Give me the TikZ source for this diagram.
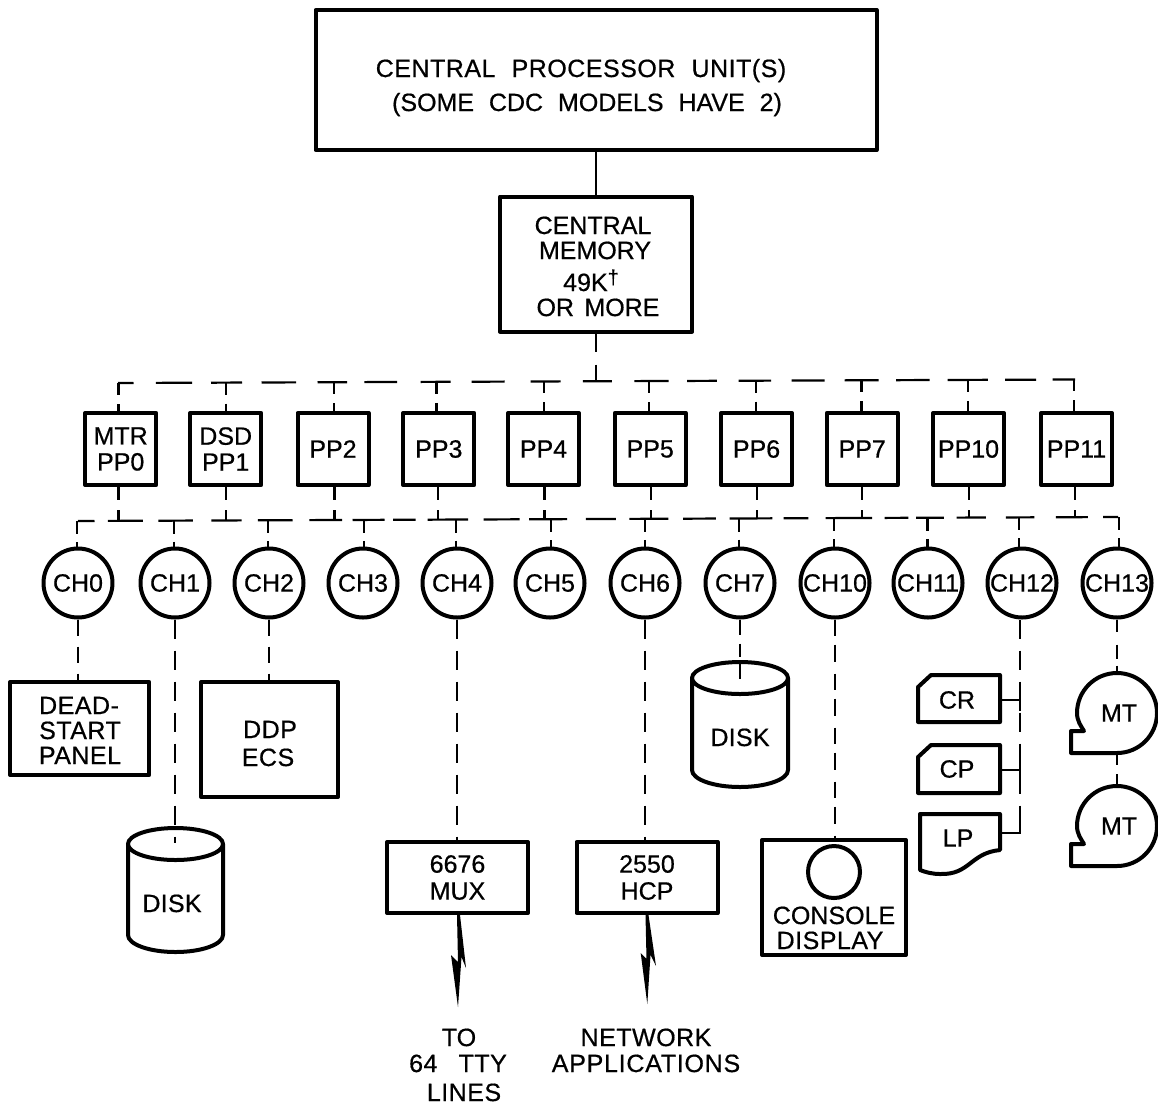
\documentclass[tikz,border=0pt]{standalone}
\usepackage{fontspec}
\setmainfont{Liberation Sans}[FakeBold=0.6,WordSpace=1.5]
\begin{document}
\begin{tikzpicture}[x=1pt,y=-1pt,
  every node/.style={font=\fontsize{25}{26}\selectfont,align=center,inner sep=0pt},
  thick box/.style={draw=black,line width=4pt,line join=round,fill=white},
  thin link/.style={draw=black,line width=2.2pt},
  topbus/.style={thin link,dash pattern=on 15.5pt off 22.4pt on 36.2pt off 18.9pt on 31pt off 19.5pt on 34.6pt off 21.4pt on 29.5pt off 17.3pt on 32.7pt off 23.5pt on 30pt off 21pt on 33pt off 26pt on 30pt off 22.4pt on 29pt off 22.4pt on 34.2pt off 18.5pt on 29.9pt off 21.6pt on 32.5pt off 20.5pt on 33pt off 20pt on 34pt off 17.5pt on 33.5pt off 18pt on 40.4pt off 17.2pt on 31pt off 16.4pt on 30pt off 30pt},
  lowbus/.style={thin link,dash pattern=on 16.5pt off 13.3pt on 35pt off 15.5pt on 34.5pt off 18.5pt on 30.3pt off 16.2pt on 34.7pt off 16.9pt on 32.7pt off 10.4pt on 32pt off 8.6pt on 22.4pt off 12pt on 40.7pt off 15.5pt on 35.8pt off 9.6pt on 37.9pt off 18.8pt on 30pt off 13.6pt on 38.9pt off 14.8pt on 32.7pt off 13.8pt on 42.7pt off 11.3pt on 24.8pt off 17.2pt on 46.5pt off 12.4pt on 23.8pt off 7.9pt on 27.6pt off 12.7pt on 29.3pt off 20pt on 28.5pt off 21.5pt on 32pt off 15.4pt on 30pt off 30pt},
  upstub/.style={thin link,dash pattern=on 12pt off 9pt},
  downstub/.style={thin link,dash pattern=on 13pt off 10pt},
  chstub/.style={thin link,dash pattern=on 13pt off 8pt},
  longdash/.style={thin link,dash pattern=on 19pt off 12pt},
  ppbox/.style={thick box,minimum width=71pt,minimum height=72pt},
  chan/.style={thick box,circle,minimum size=69pt},
  bolt/.style={fill=black},
  words/.style={anchor=base}]
\useasboundingbox (0,0) rectangle (1158,1104);
% main boxes
\node[thick box,minimum width=561pt,minimum height=140pt] (cpu) at (596,80) {};
\node[words] (cpuA) at (581,77) {\addfontfeature{LetterSpace=2}CENTRAL\hspace{5pt} PROCESSOR\hspace{5pt} UNIT(S)};
\node[words] (cpuB) at (587,111) {(SOME\hspace{4.5pt} CDC\hspace{4.5pt} MODELS\hspace{4.5pt} HAVE\hspace{4.5pt} 2)};
\node[thick box,minimum width=192pt,minimum height=135pt] (mem) at (596,264) {};
\node[words] (memA) at (593,234) {CENTRAL};
\node[words] (memB) at (595,259) {MEMORY};
\node[words] (memC) at (591,291) {49K\raisebox{7pt}{\fontsize{20}{20}\selectfont †}};
\node[words] (memD) at (598,316) {OR MORE};
\draw[thin link] (cpu.south) -- (mem.north);
% buses
\coordinate (tl) at (118,383);
\coordinate (tr) at (1075,379.5);
\coordinate (tm) at (596,381);
\coordinate (ll) at (78,521);
\coordinate (lr) at (1118,517);
\draw[topbus] (tl) -- (tr);
\draw[lowbus] (ll) -- (lr);
\draw[thin link,dash pattern=on 18pt off 13pt] (mem.south) -- (tm);
% peripheral processors: name / box x / upper stub x / lower stub x / text
\foreach \n/\x/\xa/\xb/\t in {p0/120.7/118.5/118.5/{MTR\\PP0},p1/225.7/226/226/{DSD\\PP1},p2/333/333.8/334.4/PP2,p3/438.8/436.4/437.8/PP3,p4/543.5/543.8/544.5/PP4,p5/650.2/649/651/PP5,p6/756.5/756/757/PP6,p7/862.2/861.4/862/PP7,p8/968.5/967.8/968.8/PP10,p9/1076.5/1073.8/1075/PP11}{
  \pgfmathsetmacro\ya{383-(\xa-118)*0.0037}
  \pgfmathsetmacro\yb{521-(\xb-78)*0.0038}
  \node[ppbox] (\n) at (\x,449) {\t};
  \coordinate (\n t) at (\xa,\ya);
  \coordinate (\n b) at (\xb,\yb);
  \draw[upstub] (\n t) -- (\n t |- \n.north);
  \draw[downstub] (\n b |- \n.south) -- (\n b);
}
% channels
\foreach \n/\x/\xs/\t in {c0/78/77/CH0,c1/175/174/CH1,c2/269/268/CH2,c3/363/363.7/CH3,c4/457/456/CH4,c5/550/550.7/CH5,c6/645/645/CH6,c7/740/739/CH7,c10/835/834/CH10,c11/928/927.5/CH11,c12/1022/1019/CH12,c13/1117/1118.6/CH13}{
  \pgfmathsetmacro\yc{521-(\xs-78)*0.0038}
  \node[chan] (\n) at (\x,583) {\t};
  \coordinate (\n t) at (\xs,\yc);
  \draw[chstub] (\n t) -- (\n t |- \n.north);
}
% deadstart, ddp
\node[thick box,minimum width=139pt,minimum height=93pt] (dead) at (79.8,728.5) {};
\node[words] (deadA) at (79,714) {\addfontfeature{LetterSpace=2}DEAD-};
\node[words] (deadB) at (80,739) {\addfontfeature{LetterSpace=2}START};
\node[words] (deadC) at (80,764) {\addfontfeature{LetterSpace=2}PANEL};
\node[thick box,minimum width=137pt,minimum height=115pt] (ddp) at (269.5,739.5) {};
\node[words] (ddpA) at (270,738) {\addfontfeature{LetterSpace=2}DDP};
\node[words] (ddpB) at (268,766) {\addfontfeature{LetterSpace=2}ECS};
\draw[thin link,dash pattern=on 16pt off 11pt] (c0.south) -- (c0.south |- dead.north);
\draw[thin link,dash pattern=on 16pt off 11pt] (c2.south) -- (c2.south |- ddp.north);
% disk 1
\draw[thick box] (128,844) -- (128,935) arc[start angle=180,end angle=360,x radius=47.5pt,y radius=17pt] -- (223,844);
\draw[thick box] (175.5,844) ellipse[x radius=47.5pt,y radius=16pt];
\node[words] (disk1) at (172,912) {\addfontfeature{LetterSpace=1}DISK};
\coordinate (d1t) at (175,843);
\draw[longdash] (c1.south) -- (d1t);
% disk 2
\draw[thick box] (692,678) -- (692,770) arc[start angle=180,end angle=360,x radius=48pt,y radius=17pt] -- (788,678);
\draw[thick box] (740,678) ellipse[x radius=48pt,y radius=16pt];
\node[words] (disk2) at (740,746) {\addfontfeature{LetterSpace=1}DISK};
\coordinate (d2t) at (740,680);
\draw[thin link,dash pattern=on 15pt off 9pt on 13pt off 7pt] (c7.south) -- (d2t);
% mux, hcp
\node[thick box,minimum width=141pt,minimum height=71pt,font=\fontsize{25}{27}\selectfont] (mux) at (457.5,877.5) {6676\\MUX};
\node[thick box,minimum width=141pt,minimum height=71pt,font=\fontsize{25}{27}\selectfont] (hcp) at (647,877.5) {2550\\HCP};
\draw[longdash] (c4.south) -- (c4.south |- mux.north);
\draw[longdash] (c6.south) -- (c6.south |- hcp.north);
\fill[bolt] (457,915) -- (460,915) -- (466,968) -- (461.5,957) -- (458,1007) -- (451,955) -- (458,962) -- cycle;
\fill[bolt] (645.5,915) -- (648.5,915) -- (656,966) -- (650.5,955) -- (647.3,1004) -- (640.7,953) -- (646.5,959) -- cycle;
\node[words] (toA) at (459,1046) {TO};
\node[words] (toB) at (458,1072) {\addfontfeature{LetterSpace=2}64\hspace{10pt} TTY};
\node[words] (toC) at (464,1101) {\addfontfeature{LetterSpace=2}LINES};
\node[words] (netA) at (646,1046) {\addfontfeature{LetterSpace=2}NETWORK};
\node[words] (netB) at (646,1072) {\addfontfeature{LetterSpace=3}APPLICATIONS};
% console
\node[thick box,minimum width=144pt,minimum height=115pt] (con) at (834,897.5) {};
\node[words] (conA) at (834,924) {CONSOLE};
\node[words] (conB) at (830,949) {\addfontfeature{LetterSpace=2}DISPLAY};
\node[thick box,circle,minimum size=52pt] (crt) at (834,872) {};
\draw[thin link,dash pattern=on 16pt off 9pt on 17pt off 12pt] (c10.south) -- (c10.south |- con.north);
% card reader, punch, printer
\draw[thick box] (918,687) -- (931,675) -- (1000,675) -- (1000,722) -- (918,722) -- cycle;
\node (cr) at (957,700) {CR};
\draw[thick box] (918,757) -- (931,745) -- (1000,745) -- (1000,793) -- (918,793) -- cycle;
\node (cp) at (957,769) {CP};
\draw[thick box] (920,814) -- (1000,814) -- (1000,850) .. controls (970,853) and (970,875) .. (940,874) .. controls (932,874) and (925,872) .. (920,870) -- cycle;
\node (lp) at (958,838) {LP};
\coordinate (k1) at (1020,700);
\coordinate (k2) at (1020,770);
\coordinate (k3) at (1020,833);
\draw[longdash] (c12.south -| k3) -- (k3);
\draw[thin link] (1000,700) -- (k1);
\draw[thin link] (1020,692) -- (1020,711);
\draw[thin link] (1000,770) -- (k2);
\draw[thin link] (1020,761) -- (1020,779);
\draw[thin link] (1001,833) -- (k3) -- (1020,822);
% magnetic tapes
\foreach \n/\y in {m1/713,m2/826}{
  \draw[thick box] (1117,\y+40) -- (1071,\y+40) -- (1071,\y+18) -- (1084,\y+18)
    .. controls (1081,\y+13) and (1077,\y+8) .. (1077,\y)
    arc[start angle=180,end angle=-90,radius=40pt] -- cycle;
  \node (\n) at (1119,\y) {MT};
  \coordinate (\n t) at (1117,\y-40);
  \coordinate (\n b) at (1117,\y+40);
}
\draw[thin link,dash pattern=on 12pt off 13pt on 14pt off 7pt on 9pt off 9pt] (c13.south) -- (m1t);
\draw[thin link,dash pattern=on 12pt off 9pt] (m1b) -- (m2t);
\end{tikzpicture}
\end{document}
